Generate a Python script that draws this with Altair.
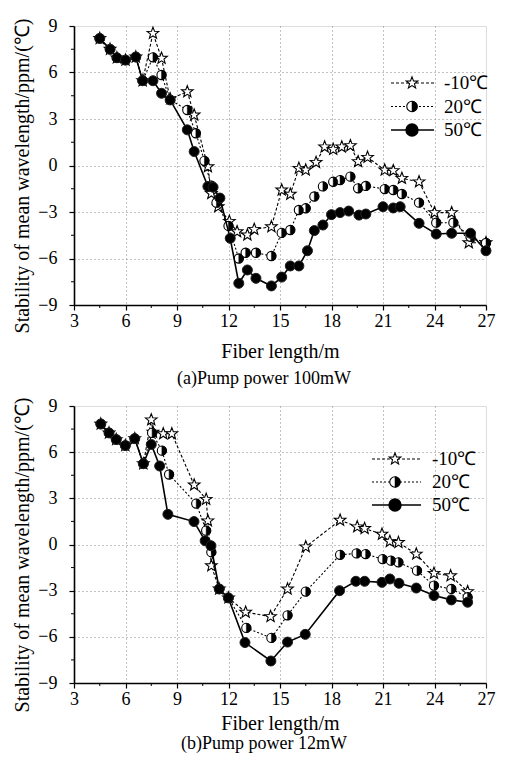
import altair as alt
import pandas as pd
import numpy as np

# ---------------- data: panel (a) pump power 100 mW ----------------
a_x_m10 = [4.5, 5.1, 5.5, 6.0, 6.6, 7.0, 7.6, 8.1, 8.6, 9.6, 10.0, 10.8, 11.0, 11.4, 12.05, 12.5, 13.1, 13.5, 14.5,
           15.1, 15.6, 16.1, 16.5, 17.1, 17.6, 18.1, 18.6, 19.1, 19.55, 20.1, 21.1, 21.6, 22.1, 23.1, 24.0, 25.0, 26.0, 27.0]
a_y_m10 = [8.2, 7.5, 6.95, 6.8, 7.0, 5.47, 8.53, 6.92, 4.3, 4.76, 3.26, -0.08, -1.8, -2.66, -3.6, -4.27, -4.48, -4.12, -3.95,
           -1.58, -1.85, -0.18, -0.29, 0.2, 1.2, 1.04, 1.2, 1.28, 0.25, 0.53, -0.29, -0.33, -0.83, -1.05, -3.04, -3.04, -4.98, -4.98]

a_x_20 = [4.5, 5.1, 5.5, 6.0, 6.6, 7.0, 7.6, 8.1, 8.6, 9.6, 10.1, 10.6, 11.0, 11.3, 12.0, 12.6, 13.0, 13.6, 14.5,
          15.1, 15.6, 16.1, 16.5, 17.0, 17.5, 18.1, 18.5, 19.1, 19.55, 20.0, 21.1, 21.6, 22.1, 23.1, 24.1, 25.1, 26.1, 27.0]
a_y_20 = [8.2, 7.5, 6.95, 6.8, 7.0, 5.47, 6.98, 5.84, 4.23, 3.58, 2.08, 0.3, -1.3, -2.4, -3.9, -6.0, -5.63, -5.63, -5.84,
          -4.35, -4.16, -2.87, -2.76, -2.0, -1.35, -1.05, -0.94, -0.72, -1.47, -1.32, -1.52, -1.58, -1.84, -2.4, -3.69, -3.69, -4.6, -5.0]

a_x_50 = [4.5, 5.1, 5.5, 6.0, 6.6, 7.0, 7.6, 8.1, 8.6, 9.6, 10.0, 10.8, 11.1, 11.5, 12.1, 12.6, 13.1, 13.6, 14.5,
          15.1, 15.6, 16.1, 16.6, 17.0, 17.5, 18.0, 18.5, 19.0, 19.6, 20.0, 21.0, 21.6, 22.0, 23.1, 24.1, 25.0, 26.1, 27.0]
a_y_50 = [8.2, 7.5, 6.95, 6.8, 7.0, 5.47, 5.47, 4.66, 4.23, 2.3, 0.9, -1.35, -1.4, -2.1, -4.7, -7.6, -6.74, -7.28, -7.77,
          -7.2, -6.48, -6.48, -5.5, -4.2, -3.84, -3.17, -3.04, -2.94, -3.2, -3.13, -2.66, -2.74, -2.66, -3.73, -4.42, -4.37, -4.37, -5.5]

# ---------------- data: panel (b) pump power 12 mW ----------------
b_x_m10 = [4.56, 5.04, 5.46, 5.99, 6.54, 7.04, 7.5, 7.6, 8.2, 8.7, 10.0, 10.7, 10.8, 11.0, 11.46, 12.0, 13.0, 14.45,
           15.44, 16.5, 18.5, 19.5, 19.93, 20.94, 21.4, 21.9, 22.94, 23.97, 24.94, 25.93]
b_y_m10 = [7.83, 7.25, 6.82, 6.43, 6.88, 5.25, 8.1, 7.3, 7.2, 7.2, 3.87, 2.94, 1.54, -1.38, -2.89, -3.47, -4.4, -4.68,
           -2.89, -0.15, 1.58, 1.15, 1.04, 0.67, 0.2, 0.13, -0.62, -1.87, -2.03, -3.06]

b_x_20 = [4.56, 5.04, 5.46, 5.99, 6.54, 7.04, 7.55, 8.12, 8.54, 10.12, 10.7, 11.0, 11.46, 12.0, 13.04, 14.5,
          15.44, 16.5, 18.5, 19.46, 19.99, 20.98, 21.46, 21.9, 22.98, 23.97, 24.98, 25.93]
b_y_20 = [7.83, 7.25, 6.82, 6.43, 6.88, 5.25, 7.25, 6.1, 4.55, 2.66, 0.9, -0.5, -2.89, -3.47, -5.42, -6.07,
          -4.6, -3.06, -0.67, -0.58, -0.62, -0.95, -1.05, -1.16, -1.7, -2.67, -2.89, -3.43]

b_x_50 = [4.56, 5.04, 5.46, 5.99, 6.54, 7.04, 7.5, 7.99, 8.47, 9.99, 10.64, 10.98, 11.46, 11.99, 12.96, 14.47,
          15.44, 16.47, 18.47, 19.42, 19.93, 20.94, 21.4, 21.93, 22.94, 23.97, 24.98, 25.93]
b_y_50 = [7.83, 7.25, 6.82, 6.43, 6.88, 5.25, 6.5, 5.1, 1.96, 1.49, 0.24, -0.08, -2.89, -3.47, -6.37, -7.57,
          -6.34, -5.84, -3.0, -2.39, -2.39, -2.46, -2.24, -2.52, -2.83, -3.32, -3.6, -3.75]

legend_labels = ["-10\u2103", "20\u2103", "50\u2103"]
x_ticks = [3, 6, 9, 12, 15, 18, 21, 24, 27]
y_ticks = [-9, -6, -3, 0, 3, 6, 9]
x_minor = [4.5, 7.5, 10.5, 13.5, 16.5, 19.5, 22.5, 25.5]
y_minor = [-7.5, -4.5, -1.5, 1.5, 4.5, 7.5]
captions = ["(a)Pump power 100mW", "(b)Pump power 12mW"]

FONT = "Liberation Serif"
W = 412
HA, HB = 279, 277


def star_path():
    pts = []
    for k in range(10):
        ang = np.deg2rad(-90 + 36 * k)
        r = 1.0 if k % 2 == 0 else 0.42
        pts.append((r * np.cos(ang), r * np.sin(ang)))
    return "M" + "L".join(f"{x:.3f},{y:.3f}" for x, y in pts) + "Z"


STAR = star_path()
CIRCLE = "M-1,0A1,1,0,1,0,1,0A1,1,0,1,0,-1,0Z"
RIGHT_HALF = "M0,-1A1,1,0,0,1,0,1Z"

xs = alt.Scale(domain=[3, 27], nice=False, zero=False)
ys = alt.Scale(domain=[-9, 9], nice=False, zero=False)


def X(tpad):
    return alt.X("x:Q", scale=xs, axis=alt.Axis(
        values=x_ticks, title="Fiber length/m", grid=True,
        gridDash=[1, 3], gridColor="#777", gridWidth=0.9,
        gridOpacity={"condition": {"test": "datum.value == 27 || datum.value == 3", "value": 0}, "value": 1},
        domainColor="black", domainWidth=1.6, tickColor="black", tickSize=5, tickWidth=1.2,
        labelFont=FONT, labelFontSize=18, labelColor="black", labelPadding=2,
        titleFont=FONT, titleFontSize=20, titleFontWeight="normal", titleColor="black", titlePadding=tpad,
        labelFlush=False))


def Y(h):
    return alt.Y("y:Q", scale=ys, axis=alt.Axis(
        values=y_ticks, title="Stability of mean wavelength/ppm/(\u2103)", grid=True,
        gridDash=[1, 3], gridColor="#777", gridWidth=0.9,
        gridOpacity={"condition": {"test": "datum.value == 9 || datum.value == -9", "value": 0}, "value": 1},
        domainColor="black", domainWidth=1.6, tickColor="black", tickSize=5, tickWidth=1.2,
        labelFont=FONT, labelFontSize=18, labelColor="black", labelPadding=12,
        titleFont=FONT, titleFontSize=20, titleFontWeight="normal", titleColor="black", titlePadding=5,
        titleY=h / 2 + 10, labelFlush=False))


def series_layers(xv, yv, kind, h, tpad):
    df = pd.DataFrame({"x": xv, "y": yv})
    base = alt.Chart(df).encode(x=X(tpad), y=Y(h))
    if kind == "m10":
        line = base.mark_line(color="black", strokeWidth=1.1, strokeDash=[3, 2])
        pts = base.mark_point(shape=STAR, size=150, filled=True, fill="white", stroke="black",
                              strokeWidth=1.1, opacity=1)
        return [line, pts]
    if kind == "20":
        line = base.mark_line(color="black", strokeWidth=1.1, strokeDash=[2, 2])
        p1 = base.mark_point(shape=CIRCLE, size=85, filled=True, fill="white", stroke="black",
                             strokeWidth=1.1, opacity=1)
        p2 = base.mark_point(shape=RIGHT_HALF, size=85, filled=True, fill="black", stroke="black",
                             strokeWidth=0.5, opacity=1)
        return [line, p1, p2]
    line = base.mark_line(color="black", strokeWidth=1.6)
    pts = base.mark_point(shape=CIRCLE, size=100, filled=True, fill="black", stroke="#222",
                          strokeWidth=1, opacity=1)
    return [line, pts]


def minor_ticks(h):
    ym = alt.Chart(pd.DataFrame({"y": y_minor})).mark_rule(color="black", strokeWidth=1).encode(
        y=alt.Y("y:Q", scale=ys), x=alt.value(-3), x2=alt.value(0))
    xm = alt.Chart(pd.DataFrame({"x": x_minor})).mark_rule(color="black", strokeWidth=1).encode(
        x=alt.X("x:Q", scale=xs), y=alt.value(h), y2=alt.value(h + 3))
    return [ym, xm]


def legend_layers(x0, x1, xs_, xt, y0, dy):
    out = []
    kinds = ["m10", "20", "50"]
    dashes = [[3, 2], [2, 2], None]
    for i, (lab, kind) in enumerate(zip(legend_labels, kinds)):
        yy = y0 + i * dy
        d = pd.DataFrame({"label": [lab]})
        base = alt.Chart(d)
        if dashes[i]:
            rule = base.mark_rule(color="black", strokeWidth=1.1, strokeDash=dashes[i])
        else:
            rule = base.mark_rule(color="black", strokeWidth=1.6)
        out.append(rule.encode(x=alt.value(x0), x2=alt.value(x1), y=alt.value(yy)))
        if kind == "m10":
            out.append(base.mark_point(shape=STAR, size=150, filled=True, fill="white", stroke="black",
                                       strokeWidth=1.1, opacity=1).encode(x=alt.value(xs_), y=alt.value(yy)))
        elif kind == "20":
            out.append(base.mark_point(shape=CIRCLE, size=110, filled=True, fill="white", stroke="black",
                                       strokeWidth=1.1, opacity=1).encode(x=alt.value(xs_), y=alt.value(yy)))
            out.append(base.mark_point(shape=RIGHT_HALF, size=110, filled=True, fill="black", stroke="black",
                                       strokeWidth=0.5, opacity=1).encode(x=alt.value(xs_), y=alt.value(yy)))
        else:
            out.append(base.mark_point(shape=CIRCLE, size=130, filled=True, fill="black", stroke="black",
                                       opacity=1).encode(x=alt.value(xs_), y=alt.value(yy)))
        out.append(base.mark_text(align="left", baseline="middle", font=FONT, fontSize=19, color="black").encode(
            x=alt.value(xt), y=alt.value(yy), text="label:N"))
    return out


def panel(data, caption, leg, h, tpad, coff):
    layers = []
    layers += minor_ticks(h)
    layers += series_layers(data[0], data[1], "m10", h, tpad)
    layers += series_layers(data[2], data[3], "20", h, tpad)
    layers += series_layers(data[4], data[5], "50", h, tpad)
    layers += legend_layers(*leg)
    return alt.layer(*layers).properties(
        width=W, height=h,
        title=alt.TitleParams(caption, orient="bottom", anchor="middle", frame="bounds",
                              font=FONT, fontSize=18, fontWeight="normal", color="black", offset=coff, dx=10))


pa = panel([a_x_m10, a_y_m10, a_x_20, a_y_20, a_x_50, a_y_50], captions[0],
           (317, 360, 338, 370, 57, 23.5), HA, 11, 9)
pb = panel([b_x_m10, b_y_m10, b_x_20, b_y_20, b_x_50, b_y_50], captions[1],
           (298, 347, 321, 358, 53, 23), HB, 5, 2)

chart = alt.vconcat(pa, pb, spacing=7).properties(
    padding={"left": 4, "top": 8, "right": 0, "bottom": 0}
).configure_view(stroke=None).configure(background="white")

chart.save("out.html", embed_options={"renderer": "svg", "actions": False})
